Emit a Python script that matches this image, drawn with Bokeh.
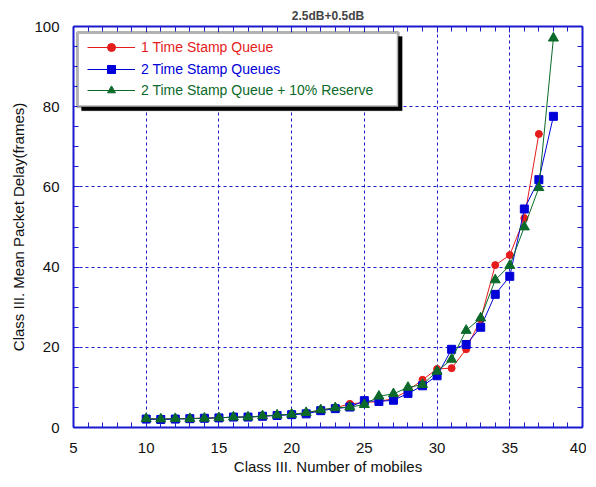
from bokeh.plotting import figure
from bokeh.models import (LinearAxis, SingleIntervalTicker, Legend, LegendItem,
                          BoxAnnotation, Range1d, Grid, CustomJSTickFormatter)
from bokeh.embed import file_html
from bokeh.resources import INLINE

# ---- data ----
x_red = list(range(10, 38))
y_red = [2.2, 2.1, 2.2, 2.2, 2.4, 2.4, 2.6, 2.6, 2.8, 3.1, 3.3, 3.6, 4.3, 4.9,
         5.9, 6.2, 6.5, 7.2, 9.2, 11.9, 14.6, 14.8, 19.5, 27.0, 40.5, 43.0,
         52.2, 73.2]
x_blue = list(range(10, 39))
y_blue = [2.1, 2.0, 2.1, 2.2, 2.3, 2.4, 2.6, 2.6, 2.8, 3.0, 3.2, 3.4, 4.2, 4.7,
          5.1, 6.7, 6.5, 6.8, 8.5, 10.4, 12.9, 19.5, 20.7, 25.0, 33.2, 37.7,
          54.5, 61.8, 77.6]
x_green = list(range(10, 39))
y_green = [2.2, 2.1, 2.2, 2.2, 2.3, 2.4, 2.6, 2.6, 2.9, 3.1, 3.3, 3.7, 4.4, 4.9,
           5.1, 5.7, 7.8, 8.4, 10.0, 10.7, 14.0, 17.0, 24.2, 27.3, 36.8, 40.4,
           50.0, 59.8, 97.1]
labels = ["1 Time Stamp Queue", "2 Time Stamp Queues",
          "2 Time Stamp Queue + 10% Reserve"]
title_text = "2.5dB+0.5dB"
x_label = "Class III. Number of mobiles"
y_label = "Class III. Mean Packet Delay(frames)"

RED = "#e51c1c"
BLUE = "#0000d8"
GREEN = "#0b6a2a"
AXIS_BLUE = "#1a1ad0"
FONT = "Liberation Sans"

p = figure(frame_width=509, frame_height=401, output_backend="svg",
           toolbar_location=None,
           x_range=Range1d(5, 40), y_range=Range1d(0, 100),
           min_border_left=73, min_border_right=4, min_border_top=26,
           min_border_bottom=50, x_axis_type=None, y_axis_type=None)
p.outline_line_color = None
p.background_fill_color = "white"

p.title.text = title_text
p.title.align = "center"
p.title.text_font = FONT
p.title.text_font_size = "12px"
p.title.text_font_style = "bold"
p.title.standoff = 7
p.title.offset = 0

xt = SingleIntervalTicker(interval=5, num_minor_ticks=5)
yt = SingleIntervalTicker(interval=20, num_minor_ticks=4)


def style_axis(ax, labels_on):
    ax.axis_line_color = AXIS_BLUE
    ax.axis_line_width = 2
    ax.major_tick_line_color = AXIS_BLUE
    ax.minor_tick_line_color = AXIS_BLUE
    ax.major_tick_line_width = 1
    ax.minor_tick_line_width = 1
    ax.major_tick_in = 6
    ax.major_tick_out = 0
    ax.minor_tick_in = 5
    ax.minor_tick_out = 0
    if labels_on:
        ax.major_label_text_font = FONT
        ax.major_label_text_font_size = "15px"
        ax.major_label_text_color = "#111111"
        ax.axis_label_text_font = FONT
        ax.axis_label_text_font_size = "15px"
        ax.axis_label_text_font_style = "normal"
        ax.axis_label_text_color = "#111111"
    else:
        ax.formatter = CustomJSTickFormatter(code="return ''")
        ax.major_label_standoff = 0


xb = LinearAxis(ticker=xt, axis_label=x_label)
style_axis(xb, True)
xb.major_label_standoff = 15
xb.axis_label_standoff = 2
p.add_layout(xb, "below")
yl = LinearAxis(ticker=yt, axis_label=y_label)
style_axis(yl, True)
yl.major_label_standoff = 14
yl.axis_label_standoff = 4
p.add_layout(yl, "left")
xa = LinearAxis(ticker=xt)
style_axis(xa, False)
p.add_layout(xa, "above")
yr = LinearAxis(ticker=yt)
style_axis(yr, False)
p.add_layout(yr, "right")

for dim, tk in ((0, xt), (1, yt)):
    g = Grid(dimension=dim, ticker=tk, grid_line_color=AXIS_BLUE,
             grid_line_dash="3 3", grid_line_width=1)
    p.add_layout(g)

r_line = p.line(x_red, y_red, color=RED, line_width=1)
r_pt = p.scatter(x_red, y_red, marker="circle", size=7, color=RED)
b_line = p.line(x_blue, y_blue, color=BLUE, line_width=1)
b_pt = p.scatter(x_blue, y_blue, marker="square", size=8, color=BLUE)
g_line = p.line(x_green, y_green, color=GREEN, line_width=1)
g_pt = p.scatter(x_green, y_green, marker="triangle", size=10, color=GREEN)

# legend frame (shadow + box)
shadow = BoxAnnotation(left=5.55, right=27.6, top=97.5, bottom=79.0,
                       fill_color="black", fill_alpha=1, line_color="black")
box = BoxAnnotation(left=5.27, right=27.33, top=98.5, bottom=80.0,
                    fill_color="white", fill_alpha=1, line_color="black",
                    line_width=3)
p.add_layout(shadow)
p.add_layout(box)

rows = [(labels[0], [r_line, r_pt], RED, 370),
        (labels[1], [b_line, b_pt], BLUE, 348),
        (labels[2], [g_line, g_pt], GREEN, 327)]
for lab, rends, col, yy in rows:
    lg = Legend(items=[LegendItem(label=lab, renderers=rends)],
                location=(14, yy), margin=0, padding=0, spacing=0,
                glyph_width=48, glyph_height=20, label_height=20,
                label_standoff=6, label_text_font=FONT,
                label_text_font_size="14px", label_text_color=col,
                border_line_alpha=0, background_fill_alpha=0)
    p.add_layout(lg)

open("out.html", "w").write(file_html(p, INLINE))
